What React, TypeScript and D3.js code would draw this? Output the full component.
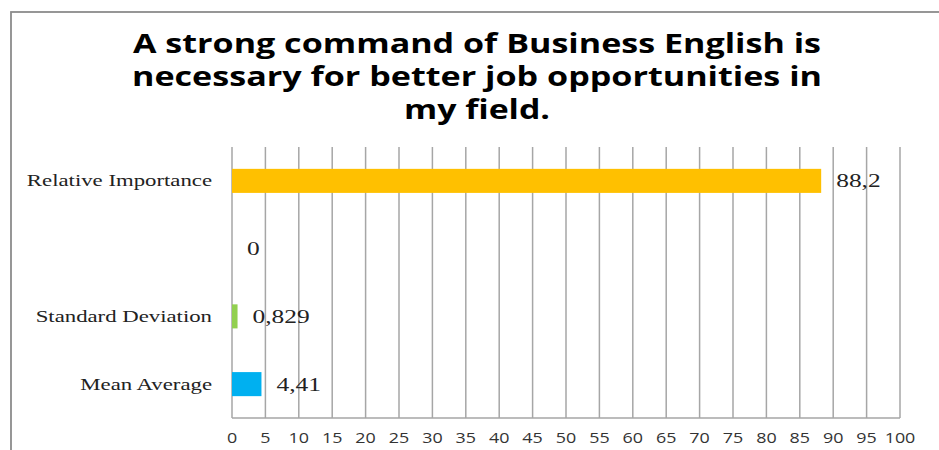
import React from "react";
import * as d3 from "d3";

const titleLines = [
  "A strong command of Business English is",
  "necessary for better job opportunities in",
  "my field.",
];
const categories = ["Relative Importance", "", "Standard Deviation", "Mean Average"];
const values = [88.2, 0, 0.829, 4.41];
const valueLabels = ["88,2", "0", "0,829", "4,41"];
const barColors = ["#FFC000", "none", "#92D050", "#00B0F0"];
const xTicks = d3.range(0, 101, 5);

const W = 939;
const H = 450;
const plot = { left: 232, right: 900, top: 147, bottom: 418 };
const titleWidths = [688, 690, 146];
const SX = 1.34;

export default function App() {
  const x = d3.scaleLinear().domain([0, 100]).range([plot.left, plot.right]);
  const y = d3
    .scaleBand<string>()
    .domain(categories)
    .range([plot.top, plot.bottom])
    .padding(0);
  const barH = y.step() * 0.355;

  return (
    <svg
      width={W}
      height={H}
      style={{ position: "absolute", left: 0, top: 0, background: "#fff" }}
    >
      <rect x={11} y={12} width={W + 20} height={H + 20} fill="#fff" stroke="#8c8c8c" strokeWidth={1.8} />
      {titleLines.map((t, i) => (
        <text
          key={i}
          x={477}
          y={53 + i * 33}
          textAnchor="middle"
          fontFamily="'Open Sans', sans-serif"
          fontWeight={700}
          fontSize={26.5}
          fill="#000"
          textLength={titleWidths[i]}
          lengthAdjust="spacingAndGlyphs"
        >
          {t}
        </text>
      ))}
      {xTicks.map((t) => (
        <line
          key={"g" + t}
          x1={x(t)}
          x2={x(t)}
          y1={plot.top}
          y2={plot.bottom}
          stroke="#a6a6a6"
          strokeWidth={1.5}
        />
      ))}
      <line x1={plot.left} x2={plot.right} y1={plot.bottom} y2={plot.bottom} stroke="#a6a6a6" strokeWidth={1.5} />
      {xTicks.map((t) => (
        <text
          key={"t" + t}
          transform={`translate(${x(t)},${443}) scale(1.28,1)`}
          textAnchor="middle"
          fontFamily="'Open Sans', sans-serif"
          fontSize={14}
          fill="#333"
        >
          {t}
        </text>
      ))}
      {categories.map((c, i) => {
        const cy = (y(c) as number) + y.step() / 2;
        return (
          <g key={"c" + i}>
            {values[i] > 0 && (
              <rect
                x={x(0)}
                y={cy - barH / 2}
                width={x(values[i]) - x(0)}
                height={barH}
                fill={barColors[i]}
              />
            )}
            {c && (
              <text
                transform={`translate(${212},${cy + 5.5}) scale(${SX},1)`}
                textAnchor="end"
                fontFamily="'Liberation Serif', serif"
                fontSize={17}
                fill="#222"
              >
                {c}
              </text>
            )}
            <text
              transform={`translate(${x(values[i]) + 15},${cy + 6.5}) scale(${SX},1)`}
              textAnchor="start"
              fontFamily="'Liberation Serif', serif"
              fontSize={19}
              fill="#222"
            >
              {valueLabels[i]}
            </text>
          </g>
        );
      })}
    </svg>
  );
}
